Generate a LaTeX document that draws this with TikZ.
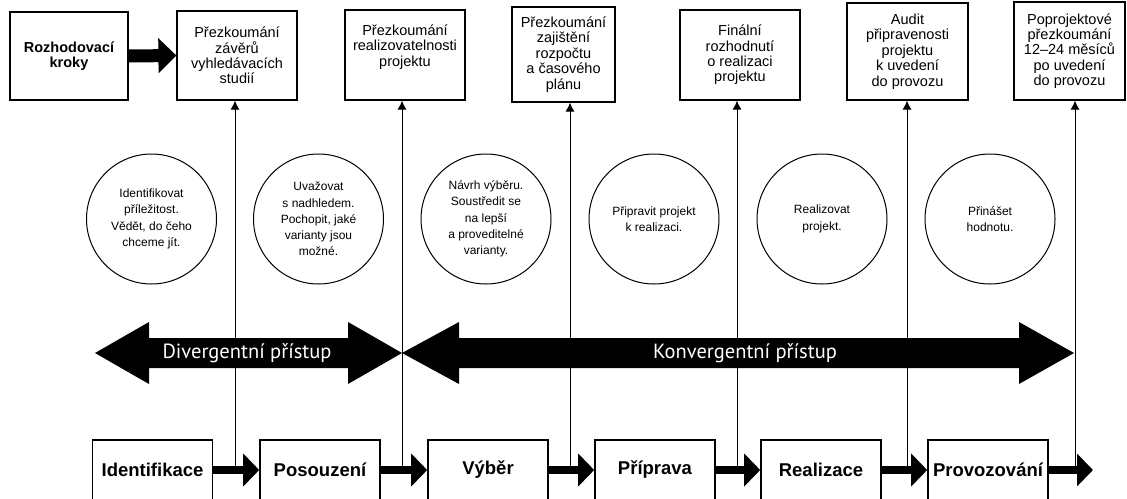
\documentclass[tikz,border=0pt]{standalone}
\usepackage{fontspec}
\setmainfont{Liberation Sans}
\newfontfamily\arrowfont{PT Sans}
\usetikzlibrary{arrows.meta}
\tikzset{
  topbox/.style={draw, line width=1.2pt, inner sep=0pt, align=center,
    font=\fontsize{14.5}{15.4}\selectfont},
  toptext/.style={inner sep=0pt, align=center, font=\fontsize{14.5}{15.4}\selectfont},
  rkbox/.style={draw, line width=2pt, inner sep=0pt, align=center,
    font=\bfseries\fontsize{14.5}{15.5}\selectfont},
  circ/.style={circle, draw, line width=1pt, minimum size=130pt, inner sep=0pt,
    align=center, font=\fontsize{12}{16.3}\selectfont},
  phase/.style={draw, line width=1.6pt, minimum width=120pt, minimum height=60pt,
    inner sep=0pt, font=\bfseries\fontsize{18.5}{20}\selectfont},
  vline/.style={line width=1pt, -{Latex[length=9pt,width=9pt]}},
  flow/.style={line width=8pt, -{Triangle[length=16pt,width=32pt]}},
  topflow/.style={line width=13pt, -{Triangle[length=18pt,width=34pt]}},
  bigarrow/.style={fill=black},
  arrowtext/.style={text=white, inner sep=0pt, font=\arrowfont\fontsize{20.5}{22}\selectfont}
}
\begin{document}
\begin{tikzpicture}[x=1pt,y=-1pt]
\fill[white] (0,0) rectangle (1127,498);
\useasboundingbox (0,0) rectangle (1127,498);

% decision boxes
\node[rkbox, minimum width=118pt, minimum height=88pt] (rk) at (69,56) {Rozhodovací\\kroky};
\node[topbox, minimum width=120pt, minimum height=89pt] (t1) at (237,55.5) {Přezkoumání\\závěrů\\vyhledávacích\\studií};
\node[topbox, minimum width=120pt, minimum height=90pt] (t2) at (405,55) {};
\node[toptext] (t2txt) at (405,47) {Přezkoumání\\realizovatelnosti\\projektu};
\node[topbox, minimum width=103pt, minimum height=95pt] (t3) at (563.5,54.5) {Přezkoumání\\zajištění\\rozpočtu\\a časového\\plánu};
\node[topbox, minimum width=120pt, minimum height=90pt] (t4) at (740,55) {Finální\\rozhodnutí\\o realizaci\\projektu};
\node[topbox, minimum width=121pt, minimum height=97pt] (t5) at (907.5,51.5) {Audit\\připravenosti\\projektu\\k uvedení\\do provozu};
\node[topbox, minimum width=111pt, minimum height=98pt] (t6) at (1069.5,51) {Poprojektové\\přezkoumání\\12–24 měsíců\\po uvedení\\do provozu};
\draw[topflow] (rk.east) -- (t1.west);

% circles
\node[circ] (c1) at (151.5,219) {Identifikovat\\příležitost.\\Vědět, do čeho\\chceme jít.};
\node[circ] (c2) at (318.5,219) {Uvažovat\\s nadhledem.\\Pochopit, jaké\\varianty jsou\\možné.};
\node[circ] (c3) at (486,219) {Návrh výběru.\\Soustředit se\\na lepší\\a proveditelné\\varianty.};
\node[circ] (c4) at (654,219) {Připravit projekt\\k realizaci.};
\node[circ] (c5) at (822,219) {Realizovat\\projekt.};
\node[circ] (c6) at (990,219) {Přinášet\\hodnotu.};

% phase boxes
\node[phase] (b1) at (152.5,470) {Identifikace};
\node[phase] (b2) at (320,470) {Posouzení};
\node[phase] (b3) at (488,470) {Výběr};
\node[phase] (b4) at (655,470) {Příprava};
\node[phase] (b5) at (821,470) {Realizace};
\node[phase] (b6) at (988,470) {Provozování};
\coordinate (bend) at (1093,470);

% vertical review lines
\coordinate (v1) at (235,466);
\coordinate (v2) at (402,466);
\coordinate (v3) at (570,466);
\coordinate (v4) at (737,466);
\coordinate (v5) at (907,466);
\coordinate (v6) at (1075,466);
\draw[vline] (v1) -- (v1 |- t1.south);
\draw[vline] (v2) -- (v2 |- t2.south);
\draw[vline] (v3) -- (v3 |- t3.south);
\draw[vline] (v4) -- (v4 |- t4.south);
\draw[vline] (v5) -- (v5 |- t5.south);
\draw[vline] (v6) -- (v6 |- t6.south);

% flow arrows between phases
\draw[flow] (b1.east) -- (b2.west);
\draw[flow] (b2.east) -- (b3.west);
\draw[flow] (b3.east) -- (b4.west);
\draw[flow] (b4.east) -- (b5.west);
\draw[flow] (b5.east) -- (b6.west);
\draw[flow] (b6.east) -- (bend);

% double arrows
\fill[bigarrow] (95,353) -- (149,322) -- (149,338) -- (348,338) -- (348,322) -- (402,353)
  -- (348,384) -- (348,368) -- (149,368) -- (149,384) -- cycle;
\fill[bigarrow] (402,353) -- (459,322) -- (459,338) -- (1019,338) -- (1019,322) -- (1074,353)
  -- (1019,384) -- (1019,368) -- (459,368) -- (459,384) -- cycle;
\node[arrowtext] (div) at (247,353) {Divergentní přístup};
\node[arrowtext] (conv) at (745,353) {Konvergentní přístup};
\end{tikzpicture}
\end{document}
